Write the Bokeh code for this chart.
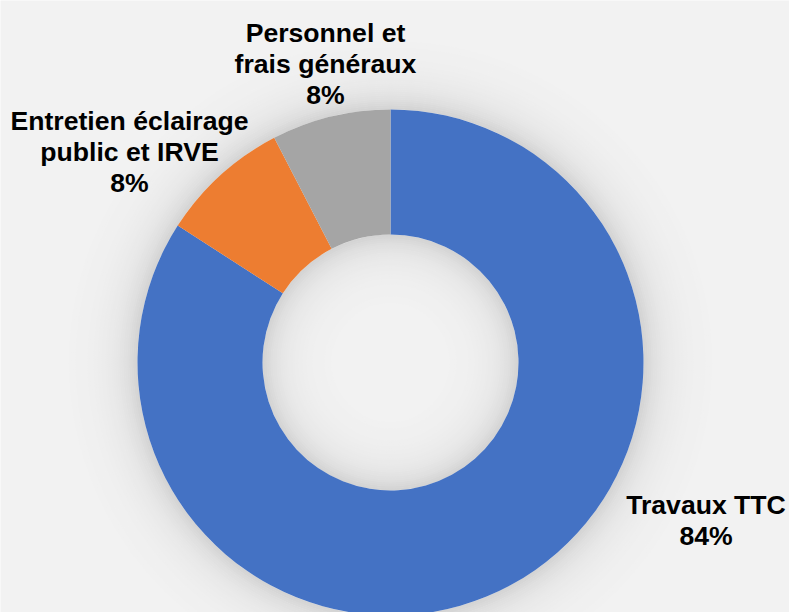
import math
from bokeh.plotting import figure
from bokeh.models import Range1d, ColumnDataSource
from bokeh.core.properties import value
from bokeh.embed import file_html
from bokeh.resources import INLINE

# ---- data ----
categories = ["Travaux TTC", "Entretien éclairage\npublic et IRVE", "Personnel et\nfrais généraux"]
values = [84.1, 8.3, 7.6]
colors = ["#4472C4", "#ED7D31", "#A5A5A5"]

# ---- layout (picture pixel coordinates) ----
W, H = 789, 612
def X(px):
    return px
def Y(py):
    return H - py

cx, cy = X(390), Y(362)
R_OUT, R_IN = 253, 128
BG = "#F2F2F2"

p = figure(width=W, height=H, output_backend="svg", toolbar_location=None,
           x_range=Range1d(0, W), y_range=Range1d(0, H), min_border=0,
           background_fill_color=BG, border_fill_color=BG, outline_line_color=None)
p.axis.visible = False
p.grid.visible = False

# ---- soft glow shadow around the ring ----
def shade(d):
    g = int(round(242 - 32 * math.exp(-d / 20.0)))
    return "#%02x%02x%02x" % (g, g, g)

step = 2
for i in range(34):
    d0 = i * step
    p.annulus(x=cx, y=cy, inner_radius=R_OUT + d0, outer_radius=R_OUT + d0 + step + 0.6,
              fill_color=shade(d0 + step / 2), line_color=None)
for i in range(34):
    d0 = i * step
    rin = max(R_IN - d0 - step - 0.6, 0)
    p.annulus(x=cx, y=cy, inner_radius=rin, outer_radius=R_IN - d0,
              fill_color=shade(d0 + step / 2), line_color=None)

# ---- donut ----
total = sum(values)
starts, ends = [], []
cum = 0.0
for v in values:
    starts.append(math.pi / 2 - 2 * math.pi * cum / total)
    cum += v
    ends.append(math.pi / 2 - 2 * math.pi * cum / total)

src = ColumnDataSource(dict(start=starts, end=ends, color=colors,
                            cat=categories, val=values))
p.annular_wedge(x=cx, y=cy, inner_radius=R_IN, outer_radius=R_OUT,
                start_angle="start", end_angle="end", direction="clock",
                fill_color="color", line_color=None, source=src)

# ---- labels ----
label_pos = [(705.5, 504), (129, 120), (325, 32)]  # centre x, first baseline (px)
LINE = 31
for cat, v, (lx, ly) in zip(categories, values, label_pos):
    lines = cat.split("\n") + [f"{round(v / total * 100)}%"]
    xs = [X(lx)] * len(lines)
    ys = [Y(ly + k * LINE) for k in range(len(lines))]
    p.text(x=xs, y=ys, text=lines, text_align="center", text_baseline="alphabetic",
           text_font=value("Liberation Sans"), text_font_style="bold",
           text_font_size="26.6px", text_color="#000000")

open("out.html", "w").write(file_html(p, INLINE))
